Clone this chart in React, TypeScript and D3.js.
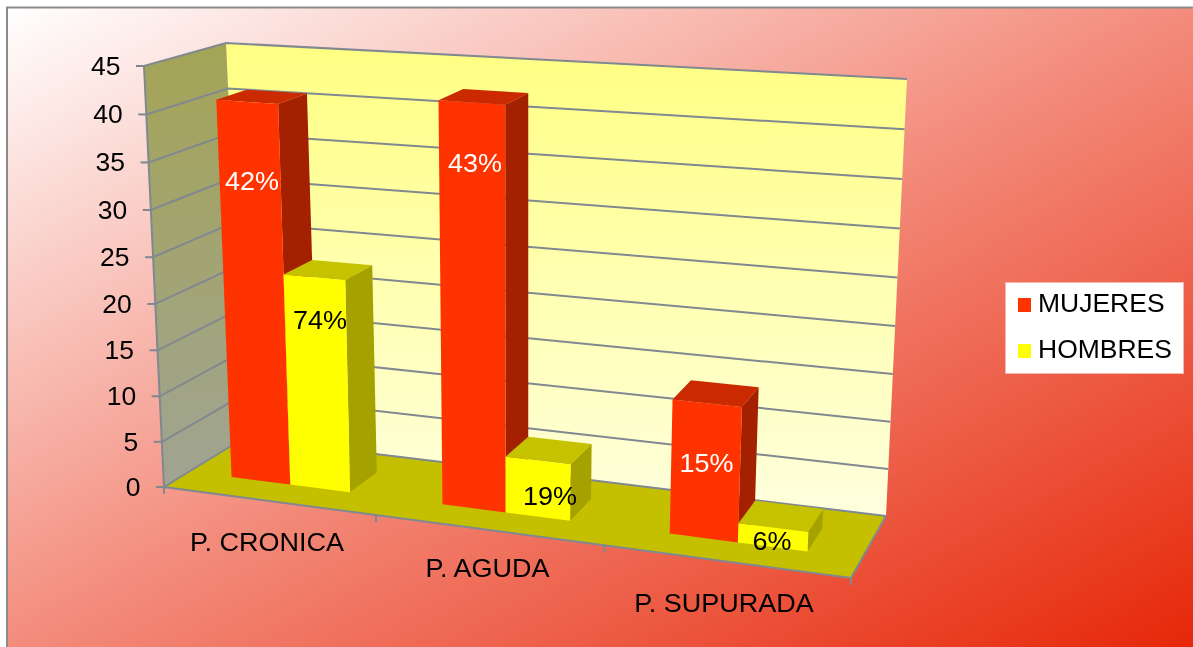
import React from "react";
import * as d3 from "d3";

const categories = ["P. CRONICA", "P. AGUDA", "P. SUPURADA"];
const seriesNames = ["MUJERES", "HOMBRES"];
const mujeres = [41, 42.5, 14];
const hombres = [23, 6, 2];
const mujeresLabels = ["42%", "43%", "15%"];
const hombresLabels = ["74%", "19%", "6%"];
const yTicks = [0, 5, 10, 15, 20, 25, 30, 35, 40, 45];

const W = 1193, H = 647;
type P = [number, number];

// projected corners of the chart's box (u: along categories, v: height, d: depth)
const FBL: P = [164, 487], FBR: P = [851, 578], BBL: P = [244, 438], BBR: P = [886, 516];
const FTL: P = [144, 66], FTR: P = [872, 115], BTL: P = [226, 43], BTR: P = [907, 79];

const persp = (c: number) => (s: number) => s / (1 + c - c * s);
const catNorm = d3.scaleLinear().domain([0, categories.length]).range([0, 1]);
const valNorm = d3.scaleLinear().domain([0, 45]).range([0, 1]);
const pu = persp(0.12), pv = persp(0.04);
const lerp = (a: P, b: P, t: number): P => [a[0] + (b[0] - a[0]) * t, a[1] + (b[1] - a[1]) * t];

function project(cat: number, val: number, depth: number): P {
  const u = pu(catNorm(cat));
  const v = pv(valNorm(val));
  const bottom = lerp(lerp(FBL, FBR, u), lerp(BBL, BBR, u), depth);
  const top = lerp(lerp(FTL, FTR, u), lerp(BTL, BTR, u), depth);
  return lerp(bottom, top, v);
}

const band = d3.scaleBand<string>().domain(categories).range([0, categories.length]).paddingInner(0.42).paddingOuter(0.21);
const sub = d3.scaleBand<string>().domain(seriesNames).range([0, band.bandwidth() * 0.985]);
const D0 = 0.315, D1 = 0.7;

const path = (pts: P[]) => (d3.line()(pts) ?? "") + "Z";

const GRID = "#808890";
const FONT = "'Liberation Sans', Arial, sans-serif";
const COLORS = [
  { front: "#ff3300", top: "#cb2900", side: "#a32100", text: "#ffffff" },
  { front: "#ffff00", top: "#c5c200", side: "#a5a200", text: "#000000" },
];

function Bar({ cat, si, value }: { cat: number; si: number; value: number }) {
  const x0 = (band(categories[cat]) as number) + (sub(seriesNames[si]) as number);
  const x1 = x0 + sub.bandwidth();
  const c = COLORS[si];
  return (
    <g>
      <path d={path([project(x0, value, D0), project(x1, value, D0), project(x1, value, D1), project(x0, value, D1)])} fill={c.top} />
      <path d={path([project(x1, 0, D0), project(x1, value, D0), project(x1, value, D1), project(x1, 0, D1)])} fill={c.side} />
      <path d={path([project(x0, 0, D0), project(x1, 0, D0), project(x1, value, D0), project(x0, value, D0)])} fill={c.front} />
    </g>
  );
}

// The text of the picture is slightly wider than it is tall.
function Label({ x, y, sx, anchor, fill, children }: { x: number; y: number; sx: number; anchor: string; fill: string; children: React.ReactNode }) {
  return (
    <text transform={`translate(${x},${y}) scale(${sx},1)`} textAnchor={anchor} fontSize={25} fill={fill}>
      {children}
    </text>
  );
}

const labelAt: P[][] = [
  [[252, 190], [320, 329]],
  [[475, 172], [550, 505]],
  [[706.5, 472], [772, 550]],
];
const catLabelAt: P[] = [[267, 551], [487.5, 577], [724, 612]];
const values = [mujeres, hombres];
const labels = [mujeresLabels, hombresLabels];

export default function App() {
  const n = categories.length;
  return (
    <svg width={W} height={H} viewBox={`0 0 ${W} ${H}`} style={{ position: "absolute", left: 0, top: 0, display: "block", background: "#fff", filter: "blur(0.4px)" }} fontFamily={FONT}>
      <defs>
        <linearGradient id="bg" x1="0" y1="0" x2="1" y2="1">
          <stop offset="0" stopColor="#ffffff" />
          <stop offset="0.5" stopColor="#f38b7b" />
          <stop offset="1" stopColor="#e62506" />
        </linearGradient>
        <linearGradient id="wall" x1="0" y1="0" x2="0" y2="1">
          <stop offset="0" stopColor="#ffff82" />
          <stop offset="1" stopColor="#ffffde" />
        </linearGradient>
        <linearGradient id="side" x1="0" y1="0" x2="0" y2="1">
          <stop offset="0" stopColor="#a4a456" />
          <stop offset="1" stopColor="#a0a492" />
        </linearGradient>
      </defs>
      <rect x={7} y={7.5} width={W} height={H} fill="url(#bg)" stroke="#8c8c8c" strokeWidth={2} />

      {/* walls and floor */}
      <path d={path([BTL, BTR, BBR, BBL])} fill="url(#wall)" />
      <path d={path([FTL, BTL, BBL, FBL])} fill="url(#side)" />
      <path d={path([FBL, FBR, BBR, BBL])} fill="#c4c000" />

      {/* grid */}
      {yTicks.map((t) => (
        <path key={t} d={d3.line()([project(0, t, 0), project(0, t, 1), project(n, t, 1)]) ?? ""} fill="none" stroke={GRID} strokeWidth={2} />
      ))}
      <path d={d3.line()([project(0, 45, 0), project(0, 0, 0), project(n, 0, 0), project(n, 0, 1)]) ?? ""} fill="none" stroke={GRID} strokeWidth={2} />
      {yTicks.map((t) => {
        const [x, y] = project(0, t, 0);
        return (
          <g key={t}>
            <line x1={x - 8} x2={x} y1={y} y2={y} stroke={GRID} strokeWidth={2} />
            <Label x={x - 23.5} y={y + 9} sx={1.06} anchor="end" fill="#000">{t}</Label>
          </g>
        );
      })}
      {d3.range(0, n + 1).map((c) => {
        const [x, y] = project(c, 0, 0);
        return <line key={c} x1={x} x2={x} y1={y} y2={y + 7} stroke={GRID} strokeWidth={2} />;
      })}

      {/* bars */}
      {categories.map((_, c) => (
        <g key={c}>
          {seriesNames.map((_, s) => <Bar key={s} cat={c} si={s} value={values[s][c]} />)}
        </g>
      ))}

      {/* data labels */}
      {categories.map((_, c) =>
        seriesNames.map((_, s) => (
          <Label key={`${c}-${s}`} x={labelAt[c][s][0]} y={labelAt[c][s][1]} sx={1.08} anchor="middle" fill={COLORS[s].text}>
            {labels[s][c]}
          </Label>
        ))
      )}

      {/* category labels */}
      {categories.map((c, i) => (
        <Label key={c} x={catLabelAt[i][0]} y={catLabelAt[i][1]} sx={1.08} anchor="middle" fill="#000">{c}</Label>
      ))}

      {/* legend */}
      <rect x={1005.5} y={282.5} width={178} height={91} fill="#fff" stroke="#f6b8ae" strokeWidth={1} />
      {seriesNames.map((s, i) => (
        <g key={s}>
          <rect x={1018} y={298 + i * 46} width={13} height={14} fill={COLORS[i].front} />
          <Label x={1038} y={312 + i * 46} sx={1.06} anchor="start" fill="#000">{s}</Label>
        </g>
      ))}
    </svg>
  );
}
